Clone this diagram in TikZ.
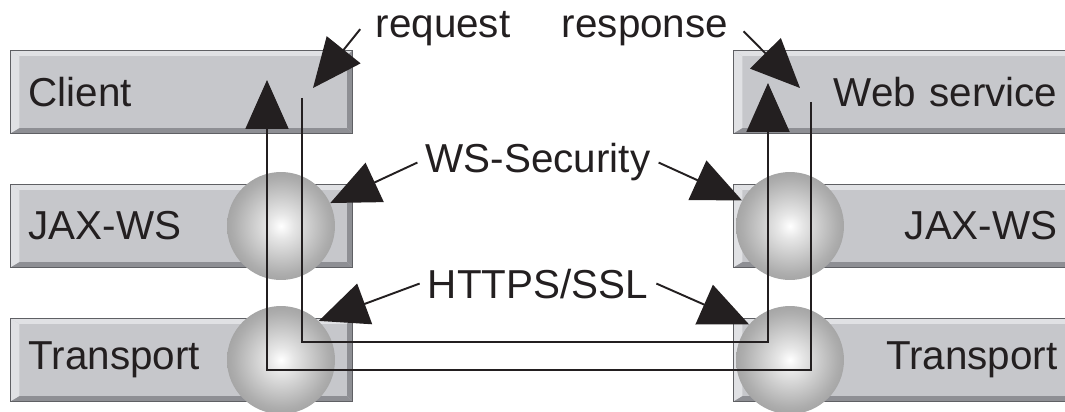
\documentclass[tikz,border=0pt]{standalone}
\usepackage{fontspec}
\setmainfont{Liberation Sans}
\usetikzlibrary{positioning,arrows.meta}
\definecolor{boxgray}{RGB}{198,199,203}
\definecolor{boxlight}{RGB}{224,225,228}
\definecolor{boxdark}{RGB}{142,143,148}
\definecolor{boxedge}{RGB}{95,96,100}
\definecolor{ink}{RGB}{35,31,32}
\pgfdeclareradialshading{globeshade}{\pgfpoint{0bp}{0bp}}{color(0bp)=(white); color(6bp)=(white!90!black); color(22bp)=(white!68!black); color(36bp)=(white!54!black); color(50bp)=(white!48!black)}

\begin{document}
\begin{tikzpicture}[x=0.02cm,y=-0.02cm,
  bevel/.style={path picture={
    \fill[boxlight] (path picture bounding box.north west) -- (path picture bounding box.north east)
      -- ([shift={(-3pt,-3pt)}]path picture bounding box.north east) -- ([shift={(5pt,-3pt)}]path picture bounding box.north west) -- cycle;
    \fill[boxlight] (path picture bounding box.north west) -- ([shift={(5pt,-3pt)}]path picture bounding box.north west)
      -- ([shift={(5pt,3pt)}]path picture bounding box.south west) -- (path picture bounding box.south west) -- cycle;
    \fill[boxdark] (path picture bounding box.south west) -- (path picture bounding box.south east)
      -- ([shift={(-3pt,3pt)}]path picture bounding box.south east) -- ([shift={(5pt,3pt)}]path picture bounding box.south west) -- cycle;
    \fill[boxdark] (path picture bounding box.north east) -- (path picture bounding box.south east)
      -- ([shift={(-3pt,3pt)}]path picture bounding box.south east) -- ([shift={(-3pt,-3pt)}]path picture bounding box.north east) -- cycle;
  }},
  layer/.style={bevel, draw=boxedge, line width=0.6pt, fill=boxgray, text=ink, anchor=north west,
    minimum height=1.66cm, inner xsep=0.36cm, text width=6.12cm, align=left,
    font=\fontsize{23}{27}\selectfont},
  layerR/.style={layer, inner xsep=0.52cm, text width=5.96cm, align=right},
  globe/.style={circle, shade, shading=globeshade, minimum size=2.16cm, inner sep=0pt},
  notetext/.style={text=ink, inner xsep=0.16cm, font=\fontsize{23}{27}\selectfont, anchor=base},
  wire/.style={draw=ink, line width=1.1pt, -{Triangle[length=9.8mm,width=8.6mm]}},
  pointer/.style={draw=ink, line width=1.1pt, -{Triangle[length=9.8mm,width=8.6mm]}}]

  \useasboundingbox (0,0) rectangle (1065,412);

  % client side
  \node[layer] (Cl) at (10,50) {Client};
  \node[layer] (JaL) at (10,184) {JAX-WS};
  \node[layer] (TrL) at (10,318) {Transport};

  % service side
  \node[layerR] (WeSe) at (733,50) {Web service};
  \node[layerR] (JaR) at (733,184) {JAX-WS};
  \node[layerR] (TrR) at (733,318) {Transport};

  \node[globe] (GJaL) at (281,226) {};
  \node[globe] (GTrL) at (281,360) {};
  \node[globe] (GJaR) at (790,226) {};
  \node[globe] (GTrR) at (790,360) {};

  % %request and response
  \coordinate (RqA) at (302,98);
  \coordinate (RqB) at (302,342);
  \coordinate (RqC) at (768,342);
  \coordinate (RqD) at (768,83);
  \coordinate (RsA) at (811,102);
  \coordinate (RsB) at (811,370);
  \coordinate (RsC) at (267,370);
  \coordinate (RsD) at (267,80);
  \draw[wire] (RqA) -- (RqB) -- (RqC) -- (RqD);
  \draw[wire] (RsA) -- (RsB) -- (RsC) -- (RsD);

  % %labels
  \node[notetext] (Rq) at (443,38) {request};
  \node[notetext] (Rs) at (645,38) {response};
  \node[notetext] (WSS) at (538,173) {WS-Security};
  \node[notetext] (SSL) at (538,298) {HTTPS/SSL};

  \coordinate (RqTip) at (313,88);
  \coordinate (RsTip) at (800,88);
  \draw[pointer] ([xshift=-4pt]Rq.west) to (RqTip);
  \draw[pointer] ([xshift=4pt]Rs.east) to (RsTip);
  \draw[pointer] (WSS.west) to (GJaL.25);
  \draw[pointer] (WSS.east) to (GJaR.152);
  \draw[pointer] (SSL.west) to (GTrL.46);
  \draw[pointer] (SSL.east) to (GTrR.139);

\end{tikzpicture}
\end{document}
